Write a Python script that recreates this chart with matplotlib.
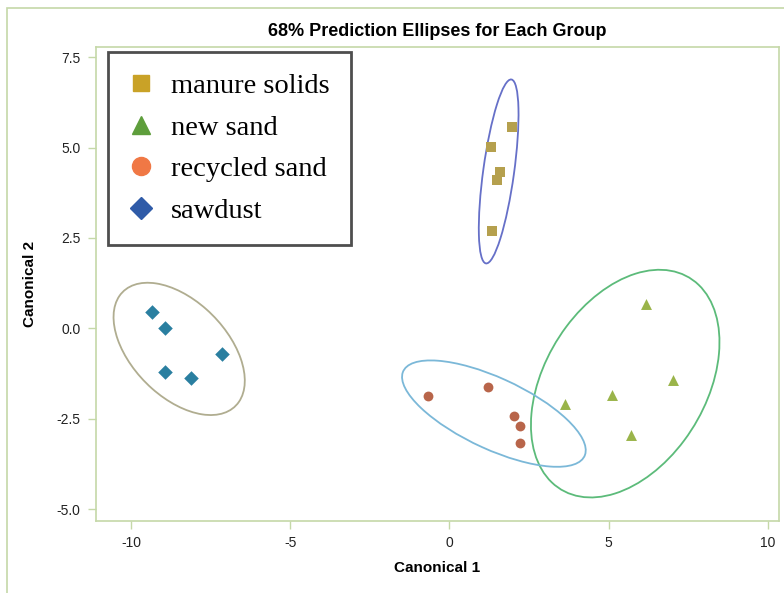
import numpy as np
import matplotlib
matplotlib.use("Agg")
import matplotlib.pyplot as plt
from matplotlib.patches import Ellipse, Rectangle
from matplotlib.lines import Line2D

# canonical scores
groups = ["manure solids", "new sand", "recycled sand", "sawdust"]
manure_x = [1.98, 1.32, 1.60, 1.48, 1.35]
manure_y = [5.57, 5.01, 4.32, 4.10, 2.69]
newsand_x = [6.16, 7.01, 5.09, 3.63, 5.71]
newsand_y = [0.66, -1.42, -1.84, -2.09, -2.96]
recycled_x = [-0.68, 1.20, 2.02, 2.22, 2.22]
recycled_y = [-1.88, -1.61, -2.43, -2.70, -3.18]
sawdust_x = [-9.35, -8.93, -7.13, -8.92, -8.11]
sawdust_y = [0.44, 0.01, -0.70, -1.22, -1.38]

x_ticks = [-10, -5, 0, 5, 10]
y_ticks = [-5.0, -2.5, 0.0, 2.5, 5.0, 7.5]

markers = ["s", "^", "o", "D"]
point_colors = ["#b5a04e", "#9ab44a", "#b8654a", "#2a7fa0"]
ellipse_colors = ["#6670c8", "#5cbb7a", "#7bb8d8", "#b0ad90"]
legend_colors = ["#c9a227", "#5e9e3c", "#f07845", "#2f5ba8"]
frame_col = "#c5d8a8"

sans = ["Liberation Sans", "DejaVu Sans"]


def prediction_ellipse(x, y, level=0.68):
    # SAS-style prediction ellipse (p=2) using F quantile closed form for df1=2
    x = np.asarray(x)
    y = np.asarray(y)
    n = len(x)
    cov = np.cov(x, y)
    d2 = n - 2
    f = d2 / 2.0 * ((1 - level) ** (-2.0 / d2) - 1)
    c = np.sqrt(2 * (n - 1) * (n + 1) / (n * (n - 2)) * f)
    vals, vecs = np.linalg.eigh(cov)
    order = vals.argsort()[::-1]
    vals, vecs = vals[order], vecs[:, order]
    angle = np.degrees(np.arctan2(vecs[1, 0], vecs[0, 0]))
    w, h = 2 * c * np.sqrt(vals)
    return (x.mean(), y.mean()), w, h, angle


fig = plt.figure(figsize=(7.84, 5.93), dpi=100)
ax = fig.add_axes([96 / 784, 1 - 521 / 593, (779 - 96) / 784, (521 - 47) / 593])

# outer frame of the screenshot
fig.patches.append(Rectangle((7 / 784, -0.05), 1.2, 1 - 8 / 593 + 0.05, transform=fig.transFigure,
                             fill=False, edgecolor=frame_col, lw=1.2))

data = [(manure_x, manure_y), (newsand_x, newsand_y), (recycled_x, recycled_y), (sawdust_x, sawdust_y)]
sizes = [52, 62, 50, 55]
for i, (gx, gy) in enumerate(data):
    ax.scatter(gx, gy, marker=markers[i], s=sizes[i], color=point_colors[i], lw=0, zorder=3)
    center, w, h, ang = prediction_ellipse(gx, gy)
    ax.add_patch(Ellipse(center, w, h, angle=ang, fill=False, edgecolor=ellipse_colors[i], lw=1.3))

ax.set_xlim(-11.1, 10.35)
ax.set_ylim(-5.33, 7.78)
ax.set_xticks(x_ticks)
ax.set_xticklabels([str(t) for t in x_ticks], family=sans, fontsize=10)
ax.set_yticks(y_ticks)
ax.set_yticklabels(["%.1f" % t for t in y_ticks], family=sans, fontsize=10)
for s in ax.spines.values():
    s.set_color(frame_col)
    s.set_linewidth(1.2)
ax.tick_params(colors=frame_col, labelcolor="#222222", length=6, width=1, pad=5)

ax.set_xlabel("Canonical 1", family=sans, fontsize=11, fontweight="bold", labelpad=8)
ax.set_ylabel("Canonical 2", family=sans, fontsize=11, fontweight="bold", labelpad=14)
ax.set_title("68% Prediction Ellipses for Each Group", family=sans, fontsize=13,
             fontweight="bold", pad=8)

leg_sizes = [12, 13, 13, 11]
handles = [Line2D([], [], ls="none", marker=markers[i], color=legend_colors[i], markersize=leg_sizes[i])
           for i in range(4)]
leg = ax.legend(handles, groups, loc="upper left", bbox_to_anchor=(12 / 683, 1 - 5 / 474),
                prop={"family": "Liberation Serif", "size": 20.5}, frameon=True, fancybox=False,
                borderpad=0.75, labelspacing=0.55, handletextpad=0.6, handlelength=0.85,
                borderaxespad=0)
leg.get_frame().set_edgecolor("#222222")
leg.get_frame().set_linewidth(2)

fig.savefig("out.png", dpi=100)
